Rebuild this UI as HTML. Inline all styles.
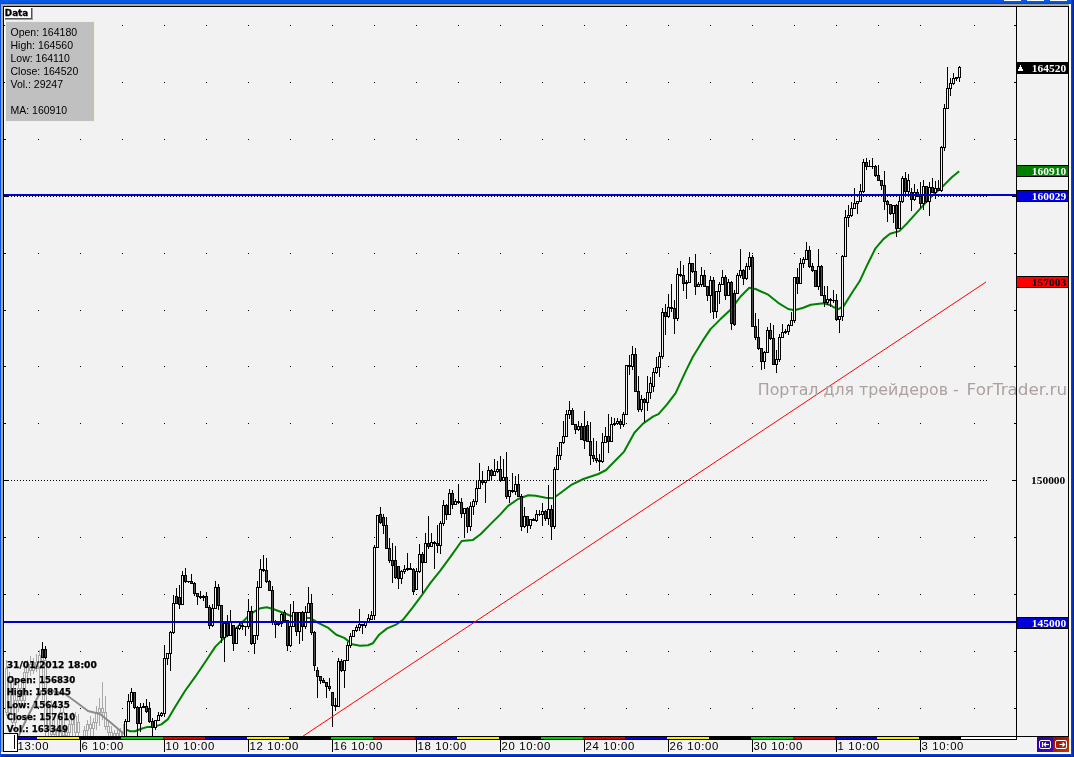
<!DOCTYPE html>
<html lang="ru"><head><meta charset="utf-8"><title>Chart</title>
<style>
html,body{margin:0;padding:0;background:#0a48de;overflow:hidden}
body{width:1074px;height:757px}
svg{display:block}
</style></head><body>
<svg width="1074" height="757" viewBox="0 0 1074 757" shape-rendering="crispEdges">
<defs><linearGradient id="gt" x1="0" y1="0" x2="0" y2="1"><stop offset="0" stop-color="#0a5ae8"/><stop offset="0.6" stop-color="#0054e3"/><stop offset="1" stop-color="#0340c8"/></linearGradient><linearGradient id="gb" x1="0" y1="0" x2="0" y2="1"><stop offset="0" stop-color="#0a48de"/><stop offset="1" stop-color="#001c9c"/></linearGradient><linearGradient id="gr" x1="0" y1="0" x2="1" y2="0"><stop offset="0" stop-color="#0a48de"/><stop offset="1" stop-color="#001c9c"/></linearGradient><linearGradient id="bb" x1="0" y1="0" x2="1" y2="1"><stop offset="0" stop-color="#2a00a0"/><stop offset="1" stop-color="#4408b8"/></linearGradient><linearGradient id="rb" x1="0" y1="0" x2="1" y2="1"><stop offset="0" stop-color="#980800"/><stop offset="1" stop-color="#c03808"/></linearGradient><clipPath id="cc"><rect x="4" y="7" width="1012" height="729"/></clipPath></defs>
<rect x="0" y="0" width="1074" height="757" fill="#0a48de"/>
<rect x="0" y="0" width="1074" height="4" fill="url(#gt)"/>
<rect x="0" y="754" width="1074" height="3" fill="url(#gb)"/>
<rect x="1071" y="0" width="3" height="757" fill="url(#gr)"/>
<rect x="0" y="0" width="1" height="757" fill="#0a50e0"/>
<rect x="1004" y="0" width="17" height="1" fill="#ffffff"/>
<rect x="1027" y="0" width="17" height="1" fill="#ffffff"/>
<rect x="1050" y="0" width="17" height="1" fill="#ffffff"/>
<rect x="1" y="4" width="1070" height="750" fill="#aca899"/>
<rect x="1069" y="4" width="2" height="750" fill="#fffdf0"/>
<rect x="1" y="752" width="1070" height="2" fill="#fffdf0"/>
<rect x="3" y="6" width="1066" height="746" fill="#000000"/>
<rect x="4" y="7" width="1065" height="745" fill="#f2f2f2"/>
<rect x="4" y="7" width="1" height="745" fill="#ffffff"/>
<path d="M38 25h1v1h-1zM80 25h1v1h-1zM122 25h1v1h-1zM164 25h1v1h-1zM206 25h1v1h-1zM248 25h1v1h-1zM290 25h1v1h-1zM332 25h1v1h-1zM374 25h1v1h-1zM416 25h1v1h-1zM458 25h1v1h-1zM500 25h1v1h-1zM542 25h1v1h-1zM584 25h1v1h-1zM626 25h1v1h-1zM668 25h1v1h-1zM710 25h1v1h-1zM752 25h1v1h-1zM794 25h1v1h-1zM836 25h1v1h-1zM878 25h1v1h-1zM920 25h1v1h-1zM974 25h1v1h-1zM38 82h1v1h-1zM80 82h1v1h-1zM122 82h1v1h-1zM164 82h1v1h-1zM206 82h1v1h-1zM248 82h1v1h-1zM290 82h1v1h-1zM332 82h1v1h-1zM374 82h1v1h-1zM416 82h1v1h-1zM458 82h1v1h-1zM500 82h1v1h-1zM542 82h1v1h-1zM584 82h1v1h-1zM626 82h1v1h-1zM668 82h1v1h-1zM710 82h1v1h-1zM752 82h1v1h-1zM794 82h1v1h-1zM836 82h1v1h-1zM878 82h1v1h-1zM920 82h1v1h-1zM974 82h1v1h-1zM38 139h1v1h-1zM80 139h1v1h-1zM122 139h1v1h-1zM164 139h1v1h-1zM206 139h1v1h-1zM248 139h1v1h-1zM290 139h1v1h-1zM332 139h1v1h-1zM374 139h1v1h-1zM416 139h1v1h-1zM458 139h1v1h-1zM500 139h1v1h-1zM542 139h1v1h-1zM584 139h1v1h-1zM626 139h1v1h-1zM668 139h1v1h-1zM710 139h1v1h-1zM752 139h1v1h-1zM794 139h1v1h-1zM836 139h1v1h-1zM878 139h1v1h-1zM920 139h1v1h-1zM974 139h1v1h-1zM38 196h1v1h-1zM80 196h1v1h-1zM122 196h1v1h-1zM164 196h1v1h-1zM206 196h1v1h-1zM248 196h1v1h-1zM290 196h1v1h-1zM332 196h1v1h-1zM374 196h1v1h-1zM416 196h1v1h-1zM458 196h1v1h-1zM500 196h1v1h-1zM542 196h1v1h-1zM584 196h1v1h-1zM626 196h1v1h-1zM668 196h1v1h-1zM710 196h1v1h-1zM752 196h1v1h-1zM794 196h1v1h-1zM836 196h1v1h-1zM878 196h1v1h-1zM920 196h1v1h-1zM974 196h1v1h-1zM38 253h1v1h-1zM80 253h1v1h-1zM122 253h1v1h-1zM164 253h1v1h-1zM206 253h1v1h-1zM248 253h1v1h-1zM290 253h1v1h-1zM332 253h1v1h-1zM374 253h1v1h-1zM416 253h1v1h-1zM458 253h1v1h-1zM500 253h1v1h-1zM542 253h1v1h-1zM584 253h1v1h-1zM626 253h1v1h-1zM668 253h1v1h-1zM710 253h1v1h-1zM752 253h1v1h-1zM794 253h1v1h-1zM836 253h1v1h-1zM878 253h1v1h-1zM920 253h1v1h-1zM974 253h1v1h-1zM38 310h1v1h-1zM80 310h1v1h-1zM122 310h1v1h-1zM164 310h1v1h-1zM206 310h1v1h-1zM248 310h1v1h-1zM290 310h1v1h-1zM332 310h1v1h-1zM374 310h1v1h-1zM416 310h1v1h-1zM458 310h1v1h-1zM500 310h1v1h-1zM542 310h1v1h-1zM584 310h1v1h-1zM626 310h1v1h-1zM668 310h1v1h-1zM710 310h1v1h-1zM752 310h1v1h-1zM794 310h1v1h-1zM836 310h1v1h-1zM878 310h1v1h-1zM920 310h1v1h-1zM974 310h1v1h-1zM38 366h1v1h-1zM80 366h1v1h-1zM122 366h1v1h-1zM164 366h1v1h-1zM206 366h1v1h-1zM248 366h1v1h-1zM290 366h1v1h-1zM332 366h1v1h-1zM374 366h1v1h-1zM416 366h1v1h-1zM458 366h1v1h-1zM500 366h1v1h-1zM542 366h1v1h-1zM584 366h1v1h-1zM626 366h1v1h-1zM668 366h1v1h-1zM710 366h1v1h-1zM752 366h1v1h-1zM794 366h1v1h-1zM836 366h1v1h-1zM878 366h1v1h-1zM920 366h1v1h-1zM974 366h1v1h-1zM38 423h1v1h-1zM80 423h1v1h-1zM122 423h1v1h-1zM164 423h1v1h-1zM206 423h1v1h-1zM248 423h1v1h-1zM290 423h1v1h-1zM332 423h1v1h-1zM374 423h1v1h-1zM416 423h1v1h-1zM458 423h1v1h-1zM500 423h1v1h-1zM542 423h1v1h-1zM584 423h1v1h-1zM626 423h1v1h-1zM668 423h1v1h-1zM710 423h1v1h-1zM752 423h1v1h-1zM794 423h1v1h-1zM836 423h1v1h-1zM878 423h1v1h-1zM920 423h1v1h-1zM974 423h1v1h-1zM38 480h1v1h-1zM80 480h1v1h-1zM122 480h1v1h-1zM164 480h1v1h-1zM206 480h1v1h-1zM248 480h1v1h-1zM290 480h1v1h-1zM332 480h1v1h-1zM374 480h1v1h-1zM416 480h1v1h-1zM458 480h1v1h-1zM500 480h1v1h-1zM542 480h1v1h-1zM584 480h1v1h-1zM626 480h1v1h-1zM668 480h1v1h-1zM710 480h1v1h-1zM752 480h1v1h-1zM794 480h1v1h-1zM836 480h1v1h-1zM878 480h1v1h-1zM920 480h1v1h-1zM974 480h1v1h-1zM38 537h1v1h-1zM80 537h1v1h-1zM122 537h1v1h-1zM164 537h1v1h-1zM206 537h1v1h-1zM248 537h1v1h-1zM290 537h1v1h-1zM332 537h1v1h-1zM374 537h1v1h-1zM416 537h1v1h-1zM458 537h1v1h-1zM500 537h1v1h-1zM542 537h1v1h-1zM584 537h1v1h-1zM626 537h1v1h-1zM668 537h1v1h-1zM710 537h1v1h-1zM752 537h1v1h-1zM794 537h1v1h-1zM836 537h1v1h-1zM878 537h1v1h-1zM920 537h1v1h-1zM974 537h1v1h-1zM38 594h1v1h-1zM80 594h1v1h-1zM122 594h1v1h-1zM164 594h1v1h-1zM206 594h1v1h-1zM248 594h1v1h-1zM290 594h1v1h-1zM332 594h1v1h-1zM374 594h1v1h-1zM416 594h1v1h-1zM458 594h1v1h-1zM500 594h1v1h-1zM542 594h1v1h-1zM584 594h1v1h-1zM626 594h1v1h-1zM668 594h1v1h-1zM710 594h1v1h-1zM752 594h1v1h-1zM794 594h1v1h-1zM836 594h1v1h-1zM878 594h1v1h-1zM920 594h1v1h-1zM974 594h1v1h-1zM38 651h1v1h-1zM80 651h1v1h-1zM122 651h1v1h-1zM164 651h1v1h-1zM206 651h1v1h-1zM248 651h1v1h-1zM290 651h1v1h-1zM332 651h1v1h-1zM374 651h1v1h-1zM416 651h1v1h-1zM458 651h1v1h-1zM500 651h1v1h-1zM542 651h1v1h-1zM584 651h1v1h-1zM626 651h1v1h-1zM668 651h1v1h-1zM710 651h1v1h-1zM752 651h1v1h-1zM794 651h1v1h-1zM836 651h1v1h-1zM878 651h1v1h-1zM920 651h1v1h-1zM974 651h1v1h-1zM38 708h1v1h-1zM80 708h1v1h-1zM122 708h1v1h-1zM164 708h1v1h-1zM206 708h1v1h-1zM248 708h1v1h-1zM290 708h1v1h-1zM332 708h1v1h-1zM374 708h1v1h-1zM416 708h1v1h-1zM458 708h1v1h-1zM500 708h1v1h-1zM542 708h1v1h-1zM584 708h1v1h-1zM626 708h1v1h-1zM668 708h1v1h-1zM710 708h1v1h-1zM752 708h1v1h-1zM794 708h1v1h-1zM836 708h1v1h-1zM878 708h1v1h-1zM920 708h1v1h-1zM974 708h1v1h-1z" fill="#000"/>
<path d="M4 25h2v1h-2zM1014 25H1016v1H1014zM4 82h2v1h-2zM1014 82H1016v1H1014zM4 139h2v1h-2zM1014 139H1016v1H1014zM4 196h5v1h-5zM1012 196H1016v1H1012zM4 253h2v1h-2zM1014 253H1016v1H1014zM4 310h2v1h-2zM1014 310H1016v1H1014zM4 366h2v1h-2zM1014 366H1016v1H1014zM4 423h2v1h-2zM1014 423H1016v1H1014zM4 480h5v1h-5zM1012 480H1016v1H1012zM4 537h2v1h-2zM1014 537H1016v1H1014zM4 594h2v1h-2zM1014 594H1016v1H1014zM4 651h2v1h-2zM1014 651H1016v1H1014zM4 708h2v1h-2zM1014 708H1016v1H1014z" fill="#000"/>
<path d="M8 480h1v1h-1zM11 480h1v1h-1zM14 480h1v1h-1zM17 480h1v1h-1zM20 480h1v1h-1zM23 480h1v1h-1zM26 480h1v1h-1zM29 480h1v1h-1zM32 480h1v1h-1zM35 480h1v1h-1zM38 480h1v1h-1zM41 480h1v1h-1zM44 480h1v1h-1zM47 480h1v1h-1zM50 480h1v1h-1zM53 480h1v1h-1zM56 480h1v1h-1zM59 480h1v1h-1zM62 480h1v1h-1zM65 480h1v1h-1zM68 480h1v1h-1zM71 480h1v1h-1zM74 480h1v1h-1zM77 480h1v1h-1zM80 480h1v1h-1zM83 480h1v1h-1zM86 480h1v1h-1zM89 480h1v1h-1zM92 480h1v1h-1zM95 480h1v1h-1zM98 480h1v1h-1zM101 480h1v1h-1zM104 480h1v1h-1zM107 480h1v1h-1zM110 480h1v1h-1zM113 480h1v1h-1zM116 480h1v1h-1zM119 480h1v1h-1zM122 480h1v1h-1zM125 480h1v1h-1zM128 480h1v1h-1zM131 480h1v1h-1zM134 480h1v1h-1zM137 480h1v1h-1zM140 480h1v1h-1zM143 480h1v1h-1zM146 480h1v1h-1zM149 480h1v1h-1zM152 480h1v1h-1zM155 480h1v1h-1zM158 480h1v1h-1zM161 480h1v1h-1zM164 480h1v1h-1zM167 480h1v1h-1zM170 480h1v1h-1zM173 480h1v1h-1zM176 480h1v1h-1zM179 480h1v1h-1zM182 480h1v1h-1zM185 480h1v1h-1zM188 480h1v1h-1zM191 480h1v1h-1zM194 480h1v1h-1zM197 480h1v1h-1zM200 480h1v1h-1zM203 480h1v1h-1zM206 480h1v1h-1zM209 480h1v1h-1zM212 480h1v1h-1zM215 480h1v1h-1zM218 480h1v1h-1zM221 480h1v1h-1zM224 480h1v1h-1zM227 480h1v1h-1zM230 480h1v1h-1zM233 480h1v1h-1zM236 480h1v1h-1zM239 480h1v1h-1zM242 480h1v1h-1zM245 480h1v1h-1zM248 480h1v1h-1zM251 480h1v1h-1zM254 480h1v1h-1zM257 480h1v1h-1zM260 480h1v1h-1zM263 480h1v1h-1zM266 480h1v1h-1zM269 480h1v1h-1zM272 480h1v1h-1zM275 480h1v1h-1zM278 480h1v1h-1zM281 480h1v1h-1zM284 480h1v1h-1zM287 480h1v1h-1zM290 480h1v1h-1zM293 480h1v1h-1zM296 480h1v1h-1zM299 480h1v1h-1zM302 480h1v1h-1zM305 480h1v1h-1zM308 480h1v1h-1zM311 480h1v1h-1zM314 480h1v1h-1zM317 480h1v1h-1zM320 480h1v1h-1zM323 480h1v1h-1zM326 480h1v1h-1zM329 480h1v1h-1zM332 480h1v1h-1zM335 480h1v1h-1zM338 480h1v1h-1zM341 480h1v1h-1zM344 480h1v1h-1zM347 480h1v1h-1zM350 480h1v1h-1zM353 480h1v1h-1zM356 480h1v1h-1zM359 480h1v1h-1zM362 480h1v1h-1zM365 480h1v1h-1zM368 480h1v1h-1zM371 480h1v1h-1zM374 480h1v1h-1zM377 480h1v1h-1zM380 480h1v1h-1zM383 480h1v1h-1zM386 480h1v1h-1zM389 480h1v1h-1zM392 480h1v1h-1zM395 480h1v1h-1zM398 480h1v1h-1zM401 480h1v1h-1zM404 480h1v1h-1zM407 480h1v1h-1zM410 480h1v1h-1zM413 480h1v1h-1zM416 480h1v1h-1zM419 480h1v1h-1zM422 480h1v1h-1zM425 480h1v1h-1zM428 480h1v1h-1zM431 480h1v1h-1zM434 480h1v1h-1zM437 480h1v1h-1zM440 480h1v1h-1zM443 480h1v1h-1zM446 480h1v1h-1zM449 480h1v1h-1zM452 480h1v1h-1zM455 480h1v1h-1zM458 480h1v1h-1zM461 480h1v1h-1zM464 480h1v1h-1zM467 480h1v1h-1zM470 480h1v1h-1zM473 480h1v1h-1zM476 480h1v1h-1zM479 480h1v1h-1zM482 480h1v1h-1zM485 480h1v1h-1zM488 480h1v1h-1zM491 480h1v1h-1zM494 480h1v1h-1zM497 480h1v1h-1zM500 480h1v1h-1zM503 480h1v1h-1zM506 480h1v1h-1zM509 480h1v1h-1zM512 480h1v1h-1zM515 480h1v1h-1zM518 480h1v1h-1zM521 480h1v1h-1zM524 480h1v1h-1zM527 480h1v1h-1zM530 480h1v1h-1zM533 480h1v1h-1zM536 480h1v1h-1zM539 480h1v1h-1zM542 480h1v1h-1zM545 480h1v1h-1zM548 480h1v1h-1zM551 480h1v1h-1zM554 480h1v1h-1zM557 480h1v1h-1zM560 480h1v1h-1zM563 480h1v1h-1zM566 480h1v1h-1zM569 480h1v1h-1zM572 480h1v1h-1zM575 480h1v1h-1zM578 480h1v1h-1zM581 480h1v1h-1zM584 480h1v1h-1zM587 480h1v1h-1zM590 480h1v1h-1zM593 480h1v1h-1zM596 480h1v1h-1zM599 480h1v1h-1zM602 480h1v1h-1zM605 480h1v1h-1zM608 480h1v1h-1zM611 480h1v1h-1zM614 480h1v1h-1zM617 480h1v1h-1zM620 480h1v1h-1zM623 480h1v1h-1zM626 480h1v1h-1zM629 480h1v1h-1zM632 480h1v1h-1zM635 480h1v1h-1zM638 480h1v1h-1zM641 480h1v1h-1zM644 480h1v1h-1zM647 480h1v1h-1zM650 480h1v1h-1zM653 480h1v1h-1zM656 480h1v1h-1zM659 480h1v1h-1zM662 480h1v1h-1zM665 480h1v1h-1zM668 480h1v1h-1zM671 480h1v1h-1zM674 480h1v1h-1zM677 480h1v1h-1zM680 480h1v1h-1zM683 480h1v1h-1zM686 480h1v1h-1zM689 480h1v1h-1zM692 480h1v1h-1zM695 480h1v1h-1zM698 480h1v1h-1zM701 480h1v1h-1zM704 480h1v1h-1zM707 480h1v1h-1zM710 480h1v1h-1zM713 480h1v1h-1zM716 480h1v1h-1zM719 480h1v1h-1zM722 480h1v1h-1zM725 480h1v1h-1zM728 480h1v1h-1zM731 480h1v1h-1zM734 480h1v1h-1zM737 480h1v1h-1zM740 480h1v1h-1zM743 480h1v1h-1zM746 480h1v1h-1zM749 480h1v1h-1zM752 480h1v1h-1zM755 480h1v1h-1zM758 480h1v1h-1zM761 480h1v1h-1zM764 480h1v1h-1zM767 480h1v1h-1zM770 480h1v1h-1zM773 480h1v1h-1zM776 480h1v1h-1zM779 480h1v1h-1zM782 480h1v1h-1zM785 480h1v1h-1zM788 480h1v1h-1zM791 480h1v1h-1zM794 480h1v1h-1zM797 480h1v1h-1zM800 480h1v1h-1zM803 480h1v1h-1zM806 480h1v1h-1zM809 480h1v1h-1zM812 480h1v1h-1zM815 480h1v1h-1zM818 480h1v1h-1zM821 480h1v1h-1zM824 480h1v1h-1zM827 480h1v1h-1zM830 480h1v1h-1zM833 480h1v1h-1zM836 480h1v1h-1zM839 480h1v1h-1zM842 480h1v1h-1zM845 480h1v1h-1zM848 480h1v1h-1zM851 480h1v1h-1zM854 480h1v1h-1zM857 480h1v1h-1zM860 480h1v1h-1zM863 480h1v1h-1zM866 480h1v1h-1zM869 480h1v1h-1zM872 480h1v1h-1zM875 480h1v1h-1zM878 480h1v1h-1zM881 480h1v1h-1zM884 480h1v1h-1zM887 480h1v1h-1zM890 480h1v1h-1zM893 480h1v1h-1zM896 480h1v1h-1zM899 480h1v1h-1zM902 480h1v1h-1zM905 480h1v1h-1zM908 480h1v1h-1zM911 480h1v1h-1zM914 480h1v1h-1zM917 480h1v1h-1zM920 480h1v1h-1zM923 480h1v1h-1zM926 480h1v1h-1zM929 480h1v1h-1zM932 480h1v1h-1zM935 480h1v1h-1zM938 480h1v1h-1zM941 480h1v1h-1zM944 480h1v1h-1zM947 480h1v1h-1zM950 480h1v1h-1zM953 480h1v1h-1zM956 480h1v1h-1zM959 480h1v1h-1zM962 480h1v1h-1zM965 480h1v1h-1zM968 480h1v1h-1zM971 480h1v1h-1zM974 480h1v1h-1zM977 480h1v1h-1zM980 480h1v1h-1zM983 480h1v1h-1zM986 480h1v1h-1z" fill="#000"/>
<path d="M8 196h1v1h-1zM11 196h1v1h-1zM14 196h1v1h-1zM17 196h1v1h-1zM20 196h1v1h-1zM23 196h1v1h-1zM26 196h1v1h-1zM29 196h1v1h-1zM32 196h1v1h-1zM35 196h1v1h-1zM38 196h1v1h-1zM41 196h1v1h-1zM44 196h1v1h-1zM47 196h1v1h-1zM50 196h1v1h-1zM53 196h1v1h-1zM56 196h1v1h-1zM59 196h1v1h-1zM62 196h1v1h-1zM65 196h1v1h-1zM68 196h1v1h-1zM71 196h1v1h-1zM74 196h1v1h-1zM77 196h1v1h-1zM80 196h1v1h-1zM83 196h1v1h-1zM86 196h1v1h-1zM89 196h1v1h-1zM92 196h1v1h-1zM95 196h1v1h-1zM98 196h1v1h-1zM101 196h1v1h-1zM104 196h1v1h-1zM107 196h1v1h-1zM110 196h1v1h-1zM113 196h1v1h-1zM116 196h1v1h-1zM119 196h1v1h-1zM122 196h1v1h-1zM125 196h1v1h-1zM128 196h1v1h-1zM131 196h1v1h-1zM134 196h1v1h-1zM137 196h1v1h-1zM140 196h1v1h-1zM143 196h1v1h-1zM146 196h1v1h-1zM149 196h1v1h-1zM152 196h1v1h-1zM155 196h1v1h-1zM158 196h1v1h-1zM161 196h1v1h-1zM164 196h1v1h-1zM167 196h1v1h-1zM170 196h1v1h-1zM173 196h1v1h-1zM176 196h1v1h-1zM179 196h1v1h-1zM182 196h1v1h-1zM185 196h1v1h-1zM188 196h1v1h-1zM191 196h1v1h-1zM194 196h1v1h-1zM197 196h1v1h-1zM200 196h1v1h-1zM203 196h1v1h-1zM206 196h1v1h-1zM209 196h1v1h-1zM212 196h1v1h-1zM215 196h1v1h-1zM218 196h1v1h-1zM221 196h1v1h-1zM224 196h1v1h-1zM227 196h1v1h-1zM230 196h1v1h-1zM233 196h1v1h-1zM236 196h1v1h-1zM239 196h1v1h-1zM242 196h1v1h-1zM245 196h1v1h-1zM248 196h1v1h-1zM251 196h1v1h-1zM254 196h1v1h-1zM257 196h1v1h-1zM260 196h1v1h-1zM263 196h1v1h-1zM266 196h1v1h-1zM269 196h1v1h-1zM272 196h1v1h-1zM275 196h1v1h-1zM278 196h1v1h-1zM281 196h1v1h-1zM284 196h1v1h-1zM287 196h1v1h-1zM290 196h1v1h-1zM293 196h1v1h-1zM296 196h1v1h-1zM299 196h1v1h-1zM302 196h1v1h-1zM305 196h1v1h-1zM308 196h1v1h-1zM311 196h1v1h-1zM314 196h1v1h-1zM317 196h1v1h-1zM320 196h1v1h-1zM323 196h1v1h-1zM326 196h1v1h-1zM329 196h1v1h-1zM332 196h1v1h-1zM335 196h1v1h-1zM338 196h1v1h-1zM341 196h1v1h-1zM344 196h1v1h-1zM347 196h1v1h-1zM350 196h1v1h-1zM353 196h1v1h-1zM356 196h1v1h-1zM359 196h1v1h-1zM362 196h1v1h-1zM365 196h1v1h-1zM368 196h1v1h-1zM371 196h1v1h-1zM374 196h1v1h-1zM377 196h1v1h-1zM380 196h1v1h-1zM383 196h1v1h-1zM386 196h1v1h-1zM389 196h1v1h-1zM392 196h1v1h-1zM395 196h1v1h-1zM398 196h1v1h-1zM401 196h1v1h-1zM404 196h1v1h-1zM407 196h1v1h-1zM410 196h1v1h-1zM413 196h1v1h-1zM416 196h1v1h-1zM419 196h1v1h-1zM422 196h1v1h-1zM425 196h1v1h-1zM428 196h1v1h-1zM431 196h1v1h-1zM434 196h1v1h-1zM437 196h1v1h-1zM440 196h1v1h-1zM443 196h1v1h-1zM446 196h1v1h-1zM449 196h1v1h-1zM452 196h1v1h-1zM455 196h1v1h-1zM458 196h1v1h-1zM461 196h1v1h-1zM464 196h1v1h-1zM467 196h1v1h-1zM470 196h1v1h-1zM473 196h1v1h-1zM476 196h1v1h-1zM479 196h1v1h-1zM482 196h1v1h-1zM485 196h1v1h-1zM488 196h1v1h-1zM491 196h1v1h-1zM494 196h1v1h-1zM497 196h1v1h-1zM500 196h1v1h-1zM503 196h1v1h-1zM506 196h1v1h-1zM509 196h1v1h-1zM512 196h1v1h-1zM515 196h1v1h-1zM518 196h1v1h-1zM521 196h1v1h-1zM524 196h1v1h-1zM527 196h1v1h-1zM530 196h1v1h-1zM533 196h1v1h-1zM536 196h1v1h-1zM539 196h1v1h-1zM542 196h1v1h-1zM545 196h1v1h-1zM548 196h1v1h-1zM551 196h1v1h-1zM554 196h1v1h-1zM557 196h1v1h-1zM560 196h1v1h-1zM563 196h1v1h-1zM566 196h1v1h-1zM569 196h1v1h-1zM572 196h1v1h-1zM575 196h1v1h-1zM578 196h1v1h-1zM581 196h1v1h-1zM584 196h1v1h-1zM587 196h1v1h-1zM590 196h1v1h-1zM593 196h1v1h-1zM596 196h1v1h-1zM599 196h1v1h-1zM602 196h1v1h-1zM605 196h1v1h-1zM608 196h1v1h-1zM611 196h1v1h-1zM614 196h1v1h-1zM617 196h1v1h-1zM620 196h1v1h-1zM623 196h1v1h-1zM626 196h1v1h-1zM629 196h1v1h-1zM632 196h1v1h-1zM635 196h1v1h-1zM638 196h1v1h-1zM641 196h1v1h-1zM644 196h1v1h-1zM647 196h1v1h-1zM650 196h1v1h-1zM653 196h1v1h-1zM656 196h1v1h-1zM659 196h1v1h-1zM662 196h1v1h-1zM665 196h1v1h-1zM668 196h1v1h-1zM671 196h1v1h-1zM674 196h1v1h-1zM677 196h1v1h-1zM680 196h1v1h-1zM683 196h1v1h-1zM686 196h1v1h-1zM689 196h1v1h-1zM692 196h1v1h-1zM695 196h1v1h-1zM698 196h1v1h-1zM701 196h1v1h-1zM704 196h1v1h-1zM707 196h1v1h-1zM710 196h1v1h-1zM713 196h1v1h-1zM716 196h1v1h-1zM719 196h1v1h-1zM722 196h1v1h-1zM725 196h1v1h-1zM728 196h1v1h-1zM731 196h1v1h-1zM734 196h1v1h-1zM737 196h1v1h-1zM740 196h1v1h-1zM743 196h1v1h-1zM746 196h1v1h-1zM749 196h1v1h-1zM752 196h1v1h-1zM755 196h1v1h-1zM758 196h1v1h-1zM761 196h1v1h-1zM764 196h1v1h-1zM767 196h1v1h-1zM770 196h1v1h-1zM773 196h1v1h-1zM776 196h1v1h-1zM779 196h1v1h-1zM782 196h1v1h-1zM785 196h1v1h-1zM788 196h1v1h-1zM791 196h1v1h-1zM794 196h1v1h-1zM797 196h1v1h-1zM800 196h1v1h-1zM803 196h1v1h-1zM806 196h1v1h-1zM809 196h1v1h-1zM812 196h1v1h-1zM815 196h1v1h-1zM818 196h1v1h-1zM821 196h1v1h-1zM824 196h1v1h-1zM827 196h1v1h-1zM830 196h1v1h-1zM833 196h1v1h-1zM836 196h1v1h-1zM839 196h1v1h-1zM842 196h1v1h-1zM845 196h1v1h-1zM848 196h1v1h-1zM851 196h1v1h-1zM854 196h1v1h-1zM857 196h1v1h-1zM860 196h1v1h-1zM863 196h1v1h-1zM866 196h1v1h-1zM869 196h1v1h-1zM872 196h1v1h-1zM875 196h1v1h-1zM878 196h1v1h-1zM881 196h1v1h-1zM884 196h1v1h-1zM887 196h1v1h-1zM890 196h1v1h-1zM893 196h1v1h-1zM896 196h1v1h-1zM899 196h1v1h-1zM902 196h1v1h-1zM905 196h1v1h-1zM908 196h1v1h-1zM911 196h1v1h-1zM914 196h1v1h-1zM917 196h1v1h-1zM920 196h1v1h-1zM923 196h1v1h-1zM926 196h1v1h-1zM929 196h1v1h-1zM932 196h1v1h-1zM935 196h1v1h-1zM938 196h1v1h-1zM941 196h1v1h-1zM944 196h1v1h-1zM947 196h1v1h-1zM950 196h1v1h-1zM953 196h1v1h-1zM956 196h1v1h-1zM959 196h1v1h-1zM962 196h1v1h-1zM965 196h1v1h-1zM968 196h1v1h-1zM971 196h1v1h-1zM974 196h1v1h-1zM977 196h1v1h-1zM980 196h1v1h-1zM983 196h1v1h-1zM986 196h1v1h-1z" fill="#000"/>
<g clip-path="url(#cc)">
<path d="M6 660h1v56h-1zM9 672h1v48h-1zM12 676h1v50h-1zM15 690h1v40h-1zM18 682h1v30h-1zM21 680h1v28h-1zM24 668h1v38h-1zM27 660h1v24h-1zM30 656h1v20h-1zM33 658h1v16h-1zM36 654h1v18h-1zM39 650h1v40h-1zM42 642h1v58h-1zM45 648h1v88h-1zM48 700h1v40h-1zM51 700h1v40h-1zM54 720h1v20h-1zM57 718h1v22h-1zM60 708h1v32h-1zM63 706h1v34h-1zM66 726h1v14h-1zM69 720h1v20h-1zM72 712h1v24h-1zM75 712h1v24h-1zM78 714h1v26h-1zM84 726h1v14h-1zM87 720h1v18h-1zM90 716h1v20h-1zM93 718h1v18h-1zM96 706h1v24h-1zM99 698h1v28h-1zM102 682h1v38h-1zM105 696h1v34h-1zM108 720h1v18h-1zM111 726h1v14h-1zM114 730h1v10h-1zM117 728h1v12h-1zM120 728h1v12h-1zM123 724h1v16h-1z" fill="#a8a8a8"/>
<path d="M5 668h3v45h-3zM8 680h3v33h-3zM11 680h3v43h-3zM14 700h3v23h-3zM17 688h3v13h-3zM20 688h3v13h-3zM23 672h3v29h-3zM26 664h3v9h-3zM29 664h3v7h-3zM32 662h3v9h-3zM35 662h3v7h-3zM38 655h3v14h-3zM41 655h3v6h-3zM44 660h3v71h-3zM47 706h3v25h-3zM50 706h3v29h-3zM53 728h3v7h-3zM56 728h3v9h-3zM59 712h3v25h-3zM62 712h3v24h-3zM65 732h3v4h-3zM68 724h3v9h-3zM71 716h3v9h-3zM74 716h3v17h-3zM77 722h3v11h-3zM83 730h3v7h-3zM86 724h3v7h-3zM89 724h3v5h-3zM92 722h3v7h-3zM95 712h3v11h-3zM98 708h3v5h-3zM101 708h3v5h-3zM104 712h3v15h-3zM107 726h3v7h-3zM110 732h3v5h-3zM113 733h3v4h-3zM116 733h3v4h-3zM119 731h3v6h-3zM122 731h3v6h-3z" fill="#a8a8a8"/>
<path d="M6 669h1v43h-1zM9 681h1v31h-1zM12 681h1v41h-1zM15 701h1v21h-1zM18 689h1v11h-1zM21 689h1v11h-1zM24 673h1v27h-1zM27 665h1v7h-1zM30 665h1v5h-1zM33 663h1v7h-1zM36 663h1v5h-1zM39 656h1v12h-1zM42 656h1v4h-1zM45 661h1v69h-1zM48 707h1v23h-1zM51 707h1v27h-1zM54 729h1v5h-1zM57 729h1v7h-1zM60 713h1v23h-1zM63 713h1v22h-1zM66 733h1v2h-1zM69 725h1v7h-1zM72 717h1v7h-1zM75 717h1v15h-1zM78 723h1v9h-1zM84 731h1v5h-1zM87 725h1v5h-1zM90 725h1v3h-1zM93 723h1v5h-1zM96 713h1v9h-1zM99 709h1v3h-1zM102 709h1v3h-1zM105 713h1v13h-1zM108 727h1v5h-1zM111 733h1v3h-1zM114 734h1v2h-1zM117 734h1v2h-1zM120 732h1v4h-1zM123 732h1v4h-1z" fill="#f6f6f6"/>
<polyline shape-rendering="auto" fill="none" stroke="#8c8c8c" stroke-width="2" stroke-linejoin="round" points="18,737 28,716 41,691 52,691 65,694 76,702 88,711 100,714 110,722 124,734"/>
<rect x="42" y="642" width="1" height="16" fill="#000"/>
<rect x="45" y="646" width="1" height="13" fill="#000"/>
<rect x="41" y="649" width="3" height="9" fill="#000"/>
<rect x="44" y="649" width="3" height="9" fill="#000"/>
<rect x="42" y="650" width="1" height="7" fill="#4c4c4c"/>
<rect x="45" y="650" width="1" height="7" fill="#4c4c4c"/>
<polyline shape-rendering="auto" fill="none" stroke="#008000" stroke-width="2" stroke-linejoin="round" points="125.6,729.4 130.1,731.2 135.1,731.2 141.4,728.7 147.6,726.9 153.9,726.9 161.4,724.4 167.7,719.4 175.2,706.8 185.3,690.5 195.3,676.7 205.4,661.7 215.4,646.6 222.9,639.1 230.5,632.8 238.0,626.5 243.0,621.5 248.0,616.5 254.3,611.5 260.6,608.2 266.8,607.2 273.1,609.0 283.1,612.7 290.7,615.7 300.7,617.3 310.8,618.3 318.3,622.8 328.3,627.8 330.0,629.4 336.3,634.7 344.3,637.9 352.2,644.3 360.1,645.8 368.0,645.2 372.8,643.3 379.1,634.7 387.1,628.4 396.6,624.3 402.9,619.8 412.4,607.8 421.9,595.1 430.3,583.1 440.3,570.6 450.4,556.8 461.7,541.0 473.0,539.9 480.5,534.2 490.5,524.1 500.6,514.1 508.1,505.8 518.1,499.0 528.2,495.3 535.7,495.8 545.7,497.8 553.3,498.3 560.8,492.8 570.8,485.2 583.4,479.0 598.4,474.0 606.1,470.0 624.1,451.6 634.4,432.7 643.0,423.6 653.3,416.4 658.5,414.2 667.0,404.4 675.6,393.2 685.9,370.9 692.9,356.7 702.9,340.4 710.5,329.1 720.5,319.1 730.5,309.8 740.6,296.5 749.3,287.7 755.6,289.0 768.2,294.7 778.2,302.8 788.2,309.0 794.5,310.3 803.3,307.8 810.8,304.8 823.4,303.3 830.9,305.3 833.2,307.0 838.5,309.1 843.8,305.9 851.7,293.2 859.6,281.3 867.6,264.2 875.5,248.3 883.4,239.1 890.0,233.8 899.3,231.1 907.2,223.2 917.8,211.3 931.0,196.8 941.5,187.6 952.1,177.0 959.2,171.2"/>
<path d="M125 719h1v26h-1zM128 694h1v28h-1zM131 688h1v16h-1zM134 692h1v17h-1zM137 706h1v31h-1zM140 703h1v29h-1zM143 703h1v5h-1zM146 699h1v14h-1zM149 702h1v21h-1zM152 718h1v19h-1zM155 720h1v10h-1zM158 712h1v9h-1zM161 712h1v5h-1zM164 645h1v72h-1zM167 653h1v12h-1zM170 631h1v40h-1zM173 595h1v39h-1zM176 588h1v16h-1zM179 585h1v24h-1zM182 571h1v34h-1zM185 568h1v15h-1zM188 581h1v2h-1zM191 574h1v10h-1zM194 582h1v14h-1zM197 593h1v12h-1zM200 591h1v8h-1zM203 595h1v6h-1zM206 592h1v16h-1zM209 605h1v24h-1zM212 604h1v23h-1zM215 581h1v28h-1zM218 584h1v26h-1zM221 605h1v38h-1zM224 621h1v41h-1zM227 615h1v22h-1zM230 610h1v26h-1zM233 625h1v26h-1zM236 627h1v17h-1zM239 621h1v9h-1zM242 623h1v7h-1zM245 626h1v10h-1zM248 599h1v30h-1zM251 606h1v39h-1zM254 635h1v19h-1zM257 581h1v59h-1zM260 559h1v29h-1zM263 555h1v17h-1zM266 558h1v25h-1zM269 580h1v11h-1zM272 586h1v39h-1zM275 620h1v18h-1zM278 623h1v3h-1zM281 613h1v14h-1zM284 610h1v11h-1zM287 620h1v31h-1zM290 604h1v43h-1zM293 601h1v26h-1zM296 612h1v24h-1zM299 612h1v32h-1zM302 611h1v30h-1zM305 606h1v23h-1zM308 587h1v26h-1zM311 594h1v41h-1zM314 631h1v40h-1zM317 667h1v31h-1zM320 676h1v8h-1zM323 678h1v5h-1zM326 682h1v16h-1zM329 678h1v13h-1zM332 692h1v35h-1zM335 698h1v13h-1zM338 658h1v49h-1zM341 659h1v13h-1zM344 660h1v28h-1zM347 642h1v19h-1zM350 633h1v15h-1zM353 630h1v7h-1zM356 625h1v7h-1zM359 609h1v22h-1zM362 624h1v10h-1zM365 622h1v6h-1zM368 614h1v9h-1zM371 611h1v9h-1zM374 545h1v75h-1zM377 515h1v33h-1zM380 507h1v17h-1zM383 514h1v20h-1zM386 517h1v32h-1zM389 538h1v25h-1zM392 543h1v40h-1zM395 546h1v33h-1zM398 566h1v23h-1zM401 570h1v14h-1zM404 565h1v9h-1zM407 553h1v18h-1zM410 563h1v7h-1zM413 568h1v27h-1zM416 568h1v22h-1zM419 544h1v29h-1zM422 552h1v41h-1zM425 533h1v30h-1zM428 516h1v33h-1zM431 533h1v14h-1zM434 541h1v28h-1zM437 525h1v28h-1zM440 521h1v33h-1zM443 500h1v26h-1zM446 504h1v16h-1zM449 489h1v26h-1zM452 490h1v19h-1zM455 499h1v6h-1zM458 484h1v20h-1zM461 498h1v20h-1zM464 508h1v30h-1zM467 507h1v26h-1zM470 502h1v29h-1zM473 499h1v16h-1zM476 480h1v25h-1zM479 463h1v26h-1zM482 471h1v14h-1zM485 480h1v23h-1zM488 466h1v15h-1zM491 469h1v11h-1zM494 459h1v17h-1zM497 461h1v12h-1zM500 456h1v26h-1zM503 459h1v22h-1zM506 452h1v47h-1zM509 490h1v13h-1zM512 473h1v20h-1zM515 476h1v19h-1zM518 474h1v23h-1zM521 494h1v37h-1zM524 507h1v21h-1zM527 516h1v17h-1zM530 519h1v10h-1zM533 518h1v3h-1zM536 510h1v12h-1zM539 510h1v6h-1zM542 503h1v23h-1zM545 510h1v11h-1zM548 485h1v40h-1zM551 505h1v35h-1zM554 467h1v62h-1zM557 447h1v23h-1zM560 442h1v18h-1zM563 421h1v23h-1zM566 410h1v27h-1zM569 401h1v18h-1zM572 408h1v17h-1zM575 424h1v10h-1zM578 421h1v10h-1zM581 423h1v17h-1zM584 411h1v38h-1zM587 421h1v21h-1zM590 422h1v43h-1zM593 438h1v24h-1zM596 441h1v22h-1zM599 454h1v17h-1zM602 433h1v30h-1zM605 427h1v16h-1zM608 414h1v39h-1zM611 417h1v25h-1zM614 418h1v8h-1zM617 418h1v7h-1zM620 419h1v10h-1zM623 412h1v15h-1zM626 365h1v50h-1zM629 355h1v20h-1zM632 346h1v24h-1zM635 348h1v44h-1zM638 376h1v36h-1zM641 395h1v17h-1zM644 398h1v24h-1zM647 376h1v35h-1zM650 377h1v22h-1zM653 368h1v24h-1zM656 357h1v17h-1zM659 352h1v25h-1zM662 308h1v51h-1zM665 304h1v31h-1zM668 294h1v24h-1zM671 284h1v28h-1zM674 300h1v34h-1zM677 268h1v53h-1zM680 261h1v16h-1zM683 265h1v26h-1zM686 280h1v19h-1zM689 257h1v26h-1zM692 263h1v10h-1zM695 254h1v41h-1zM698 282h1v5h-1zM701 267h1v20h-1zM704 270h1v17h-1zM707 286h1v15h-1zM710 276h1v37h-1zM713 277h1v42h-1zM716 291h1v27h-1zM719 282h1v22h-1zM722 270h1v15h-1zM725 275h1v25h-1zM728 279h1v17h-1zM731 281h1v49h-1zM734 290h1v36h-1zM737 273h1v21h-1zM740 249h1v29h-1zM743 269h1v16h-1zM746 263h1v17h-1zM749 252h1v18h-1zM752 255h1v72h-1zM755 313h1v27h-1zM758 319h1v31h-1zM761 348h1v22h-1zM764 351h1v18h-1zM767 327h1v26h-1zM770 323h1v17h-1zM773 325h1v40h-1zM776 350h1v23h-1zM779 334h1v28h-1zM782 324h1v14h-1zM785 329h1v5h-1zM788 324h1v11h-1zM791 312h1v14h-1zM794 277h1v46h-1zM797 268h1v26h-1zM800 258h1v26h-1zM803 257h1v11h-1zM806 242h1v18h-1zM809 246h1v22h-1zM812 263h1v9h-1zM815 270h1v17h-1zM818 249h1v41h-1zM821 265h1v31h-1zM824 286h1v21h-1zM827 286h1v19h-1zM830 298h1v9h-1zM833 290h1v13h-1zM836 294h1v27h-1zM839 316h1v17h-1zM842 255h1v66h-1zM845 210h1v47h-1zM848 205h1v22h-1zM851 202h1v15h-1zM854 188h1v21h-1zM857 201h1v13h-1zM860 184h1v18h-1zM863 159h1v34h-1zM866 158h1v12h-1zM869 160h1v7h-1zM872 158h1v11h-1zM875 165h1v12h-1zM878 165h1v16h-1zM881 180h1v10h-1zM884 171h1v39h-1zM887 200h1v22h-1zM890 204h1v11h-1zM893 205h1v18h-1zM896 204h1v33h-1zM899 197h1v32h-1zM902 176h1v27h-1zM905 172h1v23h-1zM908 174h1v20h-1zM911 188h1v23h-1zM914 184h1v17h-1zM917 189h1v8h-1zM920 182h1v26h-1zM923 180h1v30h-1zM926 186h1v17h-1zM929 182h1v34h-1zM932 178h1v15h-1zM935 181h1v18h-1zM938 180h1v11h-1zM941 146h1v46h-1zM944 104h1v47h-1zM947 67h1v42h-1zM950 78h1v18h-1zM953 73h1v12h-1zM956 77h1v4h-1zM959 66h1v16h-1z" fill="#000"/>
<path d="M124 721h3v21h-3zM127 701h3v21h-3zM130 692h3v10h-3zM133 692h3v16h-3zM136 707h3v17h-3zM139 707h3v17h-3zM142 706h3v2h-3zM145 706h3v6h-3zM148 708h3v14h-3zM151 721h3v7h-3zM154 720h3v8h-3zM157 715h3v6h-3zM160 713h3v3h-3zM163 658h3v56h-3zM166 653h3v6h-3zM169 632h3v22h-3zM172 603h3v30h-3zM175 596h3v8h-3zM178 597h3v8h-3zM181 575h3v30h-3zM184 575h3v7h-3zM187 581h3v1h-3zM190 581h3v3h-3zM193 583h3v11h-3zM196 593h3v4h-3zM199 596h3v2h-3zM202 596h3v2h-3zM205 596h3v12h-3zM208 607h3v19h-3zM211 608h3v18h-3zM214 587h3v22h-3zM217 587h3v19h-3zM220 605h3v33h-3zM223 623h3v15h-3zM226 623h3v13h-3zM229 622h3v14h-3zM232 625h3v19h-3zM235 628h3v16h-3zM238 625h3v4h-3zM241 625h3v2h-3zM244 626h3v1h-3zM247 611h3v16h-3zM250 611h3v33h-3zM253 635h3v9h-3zM256 587h3v49h-3zM259 569h3v19h-3zM262 569h3v2h-3zM265 570h3v12h-3zM268 581h3v10h-3zM271 590h3v33h-3zM274 622h3v3h-3zM277 623h3v2h-3zM280 614h3v10h-3zM283 612h3v9h-3zM286 620h3v26h-3zM289 626h3v20h-3zM292 612h3v15h-3zM295 612h3v20h-3zM298 612h3v20h-3zM301 612h3v15h-3zM304 612h3v15h-3zM307 603h3v10h-3zM310 603h3v30h-3zM313 632h3v34h-3zM316 670h3v7h-3zM319 676h3v5h-3zM322 680h3v3h-3zM325 682h3v5h-3zM328 686h3v3h-3zM331 692h3v14h-3zM334 705h3v2h-3zM337 661h3v46h-3zM340 661h3v10h-3zM343 660h3v11h-3zM346 645h3v16h-3zM349 636h3v10h-3zM352 630h3v7h-3zM355 627h3v4h-3zM358 624h3v4h-3zM361 624h3v2h-3zM364 622h3v4h-3zM367 618h3v5h-3zM370 615h3v5h-3zM373 547h3v69h-3zM376 515h3v33h-3zM379 514h3v9h-3zM382 517h3v9h-3zM385 525h3v24h-3zM388 548h3v13h-3zM391 560h3v6h-3zM394 560h3v18h-3zM397 566h3v13h-3zM400 571h3v8h-3zM403 569h3v3h-3zM406 568h3v2h-3zM409 568h3v2h-3zM412 569h3v23h-3zM415 571h3v19h-3zM418 554h3v18h-3zM421 554h3v9h-3zM424 543h3v20h-3zM427 543h3v4h-3zM430 542h3v5h-3zM433 542h3v2h-3zM436 543h3v3h-3zM439 523h3v23h-3zM442 505h3v19h-3zM445 505h3v10h-3zM448 493h3v22h-3zM451 493h3v12h-3zM454 501h3v4h-3zM457 501h3v2h-3zM460 502h3v12h-3zM463 508h3v6h-3zM466 508h3v19h-3zM469 506h3v21h-3zM472 501h3v6h-3zM475 488h3v14h-3zM478 480h3v9h-3zM481 480h3v3h-3zM484 480h3v3h-3zM487 470h3v11h-3zM490 470h3v6h-3zM493 471h3v5h-3zM496 469h3v3h-3zM499 469h3v12h-3zM502 477h3v4h-3zM505 477h3v20h-3zM508 490h3v7h-3zM511 490h3v2h-3zM514 484h3v8h-3zM517 484h3v13h-3zM520 496h3v31h-3zM523 516h3v11h-3zM526 516h3v10h-3zM529 519h3v7h-3zM532 519h3v2h-3zM535 514h3v7h-3zM538 514h3v1h-3zM541 511h3v4h-3zM544 511h3v8h-3zM547 509h3v10h-3zM550 509h3v18h-3zM553 469h3v58h-3zM556 455h3v15h-3zM559 442h3v14h-3zM562 436h3v7h-3zM565 414h3v23h-3zM568 410h3v5h-3zM571 410h3v15h-3zM574 424h3v6h-3zM577 426h3v4h-3zM580 426h3v14h-3zM583 426h3v15h-3zM586 425h3v17h-3zM589 441h3v15h-3zM592 455h3v4h-3zM595 458h3v3h-3zM598 460h3v2h-3zM601 442h3v20h-3zM604 436h3v7h-3zM607 436h3v6h-3zM610 424h3v18h-3zM613 423h3v2h-3zM616 421h3v3h-3zM619 421h3v4h-3zM622 414h3v11h-3zM625 365h3v50h-3zM628 365h3v2h-3zM631 354h3v13h-3zM634 354h3v38h-3zM637 391h3v19h-3zM640 399h3v11h-3zM643 399h3v4h-3zM646 392h3v11h-3zM649 383h3v10h-3zM652 372h3v15h-3zM655 367h3v6h-3zM658 356h3v12h-3zM661 312h3v45h-3zM664 312h3v5h-3zM667 307h3v10h-3zM670 307h3v2h-3zM673 308h3v11h-3zM676 274h3v45h-3zM679 274h3v2h-3zM682 275h3v9h-3zM685 282h3v2h-3zM688 263h3v20h-3zM691 263h3v9h-3zM694 271h3v16h-3zM697 284h3v3h-3zM700 275h3v10h-3zM703 275h3v12h-3zM706 286h3v10h-3zM709 280h3v16h-3zM712 280h3v32h-3zM715 291h3v21h-3zM718 284h3v8h-3zM721 277h3v8h-3zM724 277h3v19h-3zM727 282h3v14h-3zM730 282h3v42h-3zM733 293h3v32h-3zM736 275h3v19h-3zM739 270h3v6h-3zM742 270h3v9h-3zM745 266h3v13h-3zM748 257h3v10h-3zM751 257h3v70h-3zM754 326h3v12h-3zM757 337h3v12h-3zM760 348h3v14h-3zM763 352h3v10h-3zM766 330h3v23h-3zM769 330h3v9h-3zM772 338h3v27h-3zM775 359h3v6h-3zM778 337h3v23h-3zM781 332h3v6h-3zM784 331h3v2h-3zM787 325h3v7h-3zM790 320h3v6h-3zM793 277h3v44h-3zM796 277h3v7h-3zM799 263h3v21h-3zM802 259h3v5h-3zM805 250h3v10h-3zM808 250h3v17h-3zM811 266h3v5h-3zM814 270h3v17h-3zM817 266h3v21h-3zM820 266h3v30h-3zM823 295h3v8h-3zM826 299h3v4h-3zM829 299h3v2h-3zM832 300h3v1h-3zM835 300h3v20h-3zM838 316h3v4h-3zM841 256h3v61h-3zM844 217h3v40h-3zM847 215h3v3h-3zM850 208h3v8h-3zM853 203h3v6h-3zM856 201h3v3h-3zM859 191h3v11h-3zM862 162h3v30h-3zM865 162h3v5h-3zM868 166h3v1h-3zM871 166h3v1h-3zM874 166h3v10h-3zM877 175h3v6h-3zM880 180h3v6h-3zM883 185h3v17h-3zM886 201h3v4h-3zM889 204h3v10h-3zM892 205h3v9h-3zM895 205h3v24h-3zM898 201h3v28h-3zM901 178h3v24h-3zM904 178h3v14h-3zM907 180h3v12h-3zM910 192h3v8h-3zM913 192h3v8h-3zM916 192h3v5h-3zM919 196h3v8h-3zM922 186h3v18h-3zM925 186h3v16h-3zM928 187h3v15h-3zM931 187h3v6h-3zM934 188h3v5h-3zM937 188h3v3h-3zM940 147h3v44h-3zM943 108h3v40h-3zM946 88h3v21h-3zM949 83h3v6h-3zM952 78h3v6h-3zM955 77h3v2h-3zM958 67h3v11h-3z" fill="#000"/>
<path d="M125 722h1v19h-1zM128 702h1v19h-1zM131 693h1v8h-1zM140 708h1v15h-1zM155 721h1v6h-1zM158 716h1v4h-1zM161 714h1v1h-1zM164 659h1v54h-1zM167 654h1v4h-1zM170 633h1v20h-1zM173 604h1v28h-1zM182 576h1v28h-1zM212 609h1v16h-1zM215 588h1v20h-1zM224 624h1v13h-1zM230 623h1v12h-1zM236 629h1v14h-1zM239 626h1v2h-1zM248 612h1v14h-1zM254 636h1v7h-1zM257 588h1v47h-1zM260 570h1v17h-1zM281 615h1v8h-1zM290 627h1v18h-1zM293 613h1v13h-1zM299 613h1v18h-1zM305 613h1v13h-1zM308 604h1v8h-1zM338 662h1v44h-1zM344 661h1v9h-1zM347 646h1v14h-1zM350 637h1v8h-1zM353 631h1v5h-1zM356 628h1v2h-1zM359 625h1v2h-1zM365 623h1v2h-1zM368 619h1v3h-1zM371 616h1v3h-1zM374 548h1v67h-1zM377 516h1v31h-1zM401 572h1v6h-1zM404 570h1v1h-1zM416 572h1v17h-1zM419 555h1v16h-1zM425 544h1v18h-1zM431 543h1v3h-1zM440 524h1v21h-1zM443 506h1v17h-1zM449 494h1v20h-1zM455 502h1v2h-1zM464 509h1v4h-1zM470 507h1v19h-1zM473 502h1v4h-1zM476 489h1v12h-1zM479 481h1v7h-1zM485 481h1v1h-1zM488 471h1v9h-1zM494 472h1v3h-1zM497 470h1v1h-1zM503 478h1v2h-1zM509 491h1v5h-1zM515 485h1v6h-1zM524 517h1v9h-1zM530 520h1v5h-1zM536 515h1v5h-1zM542 512h1v2h-1zM548 510h1v8h-1zM554 470h1v56h-1zM557 456h1v13h-1zM560 443h1v12h-1zM563 437h1v5h-1zM566 415h1v21h-1zM569 411h1v3h-1zM578 427h1v2h-1zM602 443h1v18h-1zM605 437h1v5h-1zM611 425h1v16h-1zM617 422h1v1h-1zM623 415h1v9h-1zM626 366h1v48h-1zM632 355h1v11h-1zM641 400h1v9h-1zM647 393h1v9h-1zM650 384h1v8h-1zM653 373h1v13h-1zM656 368h1v4h-1zM659 357h1v10h-1zM662 313h1v43h-1zM668 308h1v8h-1zM677 275h1v43h-1zM689 264h1v18h-1zM698 285h1v1h-1zM701 276h1v8h-1zM710 281h1v14h-1zM716 292h1v19h-1zM719 285h1v6h-1zM722 278h1v6h-1zM728 283h1v12h-1zM737 276h1v17h-1zM740 271h1v4h-1zM746 267h1v11h-1zM749 258h1v8h-1zM764 353h1v8h-1zM767 331h1v21h-1zM776 360h1v4h-1zM779 338h1v21h-1zM782 333h1v4h-1zM788 326h1v5h-1zM791 321h1v4h-1zM794 278h1v42h-1zM800 264h1v19h-1zM803 260h1v3h-1zM806 251h1v8h-1zM818 267h1v19h-1zM827 300h1v2h-1zM839 317h1v2h-1zM842 257h1v59h-1zM845 218h1v38h-1zM848 216h1v1h-1zM851 209h1v6h-1zM854 204h1v4h-1zM857 202h1v1h-1zM860 192h1v9h-1zM863 163h1v28h-1zM893 206h1v7h-1zM899 202h1v26h-1zM902 179h1v22h-1zM908 181h1v10h-1zM914 193h1v6h-1zM923 187h1v16h-1zM929 188h1v13h-1zM935 189h1v3h-1zM941 148h1v42h-1zM944 109h1v38h-1zM947 89h1v19h-1zM950 84h1v4h-1zM953 79h1v4h-1zM959 68h1v9h-1z" fill="#f2f2f2"/>
<path d="M134 693h1v14h-1zM137 708h1v15h-1zM146 707h1v4h-1zM149 709h1v12h-1zM152 722h1v5h-1zM176 597h1v6h-1zM179 598h1v6h-1zM185 576h1v5h-1zM191 582h1v1h-1zM194 584h1v9h-1zM197 594h1v2h-1zM206 597h1v10h-1zM209 608h1v17h-1zM218 588h1v17h-1zM221 606h1v31h-1zM227 624h1v11h-1zM233 626h1v17h-1zM251 612h1v31h-1zM266 571h1v10h-1zM269 582h1v8h-1zM272 591h1v31h-1zM275 623h1v1h-1zM284 613h1v7h-1zM287 621h1v24h-1zM296 613h1v18h-1zM302 613h1v13h-1zM311 604h1v28h-1zM314 633h1v32h-1zM317 671h1v5h-1zM320 677h1v3h-1zM323 681h1v1h-1zM326 683h1v3h-1zM329 687h1v1h-1zM332 693h1v12h-1zM341 662h1v8h-1zM380 515h1v7h-1zM383 518h1v7h-1zM386 526h1v22h-1zM389 549h1v11h-1zM392 561h1v4h-1zM395 561h1v16h-1zM398 567h1v11h-1zM413 570h1v21h-1zM422 555h1v7h-1zM428 544h1v2h-1zM437 544h1v1h-1zM446 506h1v8h-1zM452 494h1v10h-1zM461 503h1v10h-1zM467 509h1v17h-1zM482 481h1v1h-1zM491 471h1v4h-1zM500 470h1v10h-1zM506 478h1v18h-1zM518 485h1v11h-1zM521 497h1v29h-1zM527 517h1v8h-1zM545 512h1v6h-1zM551 510h1v16h-1zM572 411h1v13h-1zM575 425h1v4h-1zM581 427h1v12h-1zM584 427h1v13h-1zM587 426h1v15h-1zM590 442h1v13h-1zM593 456h1v2h-1zM596 459h1v1h-1zM608 437h1v4h-1zM620 422h1v2h-1zM635 355h1v36h-1zM638 392h1v17h-1zM644 400h1v2h-1zM665 313h1v3h-1zM674 309h1v9h-1zM683 276h1v7h-1zM692 264h1v7h-1zM695 272h1v14h-1zM704 276h1v10h-1zM707 287h1v8h-1zM713 281h1v30h-1zM725 278h1v17h-1zM731 283h1v40h-1zM734 294h1v30h-1zM743 271h1v7h-1zM752 258h1v68h-1zM755 327h1v10h-1zM758 338h1v10h-1zM761 349h1v12h-1zM770 331h1v7h-1zM773 339h1v25h-1zM797 278h1v5h-1zM809 251h1v15h-1zM812 267h1v3h-1zM815 271h1v15h-1zM821 267h1v28h-1zM824 296h1v6h-1zM836 301h1v18h-1zM866 163h1v3h-1zM875 167h1v8h-1zM878 176h1v4h-1zM881 181h1v4h-1zM884 186h1v15h-1zM887 202h1v2h-1zM890 205h1v8h-1zM896 206h1v22h-1zM905 179h1v12h-1zM911 193h1v6h-1zM917 193h1v3h-1zM920 197h1v6h-1zM926 187h1v14h-1zM932 188h1v4h-1zM938 189h1v1h-1z" fill="#4c4c4c"/>
<rect x="4" y="194" width="1012" height="2" fill="#0000cc"/>
<rect x="4" y="621" width="1012" height="2" fill="#0000cc"/>
<line x1="301" y1="737.5" x2="986" y2="282" stroke="#ff0000" stroke-width="1" shape-rendering="auto"/>
</g>
<text y="394.8" font-family="'DejaVu Sans', 'Liberation Sans', sans-serif" font-size="15.5" fill="#ada0a0" shape-rendering="auto"><tspan x="757.8" textLength="201" lengthAdjust="spacingAndGlyphs">Портал для трейдеров -</tspan> <tspan x="966.6" textLength="100.5" lengthAdjust="spacingAndGlyphs">ForTrader.ru</tspan></text>
<rect x="1016" y="7" width="1" height="733" fill="#000"/>
<rect x="1068" y="7" width="1" height="730" fill="#000"/>
<rect x="1016" y="62" width="53" height="12" fill="#000"/>
<rect x="1017" y="63" width="51" height="10" fill="#000000"/>
<text x="1031.8" y="71.8" textLength="34.3" lengthAdjust="spacingAndGlyphs" font-family="'Liberation Serif', serif" font-weight="bold" font-size="10.3" fill="#fff" shape-rendering="auto">164520</text>
<path d="M1020 65h1v2h1v2h1v2h-5v-2h1v-2h1z" fill="#fff"/>
<rect x="1016" y="165" width="53" height="12" fill="#000"/>
<rect x="1017" y="166" width="51" height="10" fill="#008000"/>
<text x="1031.8" y="174.8" textLength="34.3" lengthAdjust="spacingAndGlyphs" font-family="'Liberation Serif', serif" font-weight="bold" font-size="10.3" fill="#fff" shape-rendering="auto">160910</text>
<rect x="1016" y="190" width="53" height="12" fill="#000"/>
<rect x="1017" y="191" width="51" height="10" fill="#0000dd"/>
<text x="1031.8" y="199.8" textLength="34.3" lengthAdjust="spacingAndGlyphs" font-family="'Liberation Serif', serif" font-weight="bold" font-size="10.3" fill="#fff" shape-rendering="auto">160029</text>
<rect x="1016" y="276" width="53" height="12" fill="#000"/>
<rect x="1017" y="277" width="51" height="10" fill="#ff0000"/>
<text x="1031.8" y="285.8" textLength="34.3" lengthAdjust="spacingAndGlyphs" font-family="'Liberation Serif', serif" font-weight="bold" font-size="10.3" fill="#000" shape-rendering="auto">157003</text>
<rect x="1016" y="617" width="53" height="12" fill="#000"/>
<rect x="1017" y="618" width="51" height="10" fill="#0000dd"/>
<text x="1031.8" y="626.8" textLength="34.3" lengthAdjust="spacingAndGlyphs" font-family="'Liberation Serif', serif" font-weight="bold" font-size="10.3" fill="#fff" shape-rendering="auto">145000</text>
<text x="1031" y="484.3" textLength="34.3" lengthAdjust="spacingAndGlyphs" font-family="'Liberation Serif', serif" font-weight="bold" font-size="10.3" fill="#000" shape-rendering="auto">150000</text>
<rect x="18" y="736" width="1051" height="1" fill="#000"/>
<rect x="18" y="739" width="999" height="1" fill="#000"/>
<rect x="18" y="737" width="943" height="2" fill="#000"/>
<rect x="961" y="737" width="55" height="2" fill="#ffffff"/>
<rect x="18" y="737" width="19" height="2" fill="#0000e0"/>
<rect x="37" y="737" width="42" height="2" fill="#f0f000"/>
<rect x="121" y="737" width="42" height="2" fill="#00cc00"/>
<rect x="163" y="737" width="42" height="2" fill="#dd0000"/>
<rect x="205" y="737" width="42" height="2" fill="#0000e0"/>
<rect x="247" y="737" width="42" height="2" fill="#f0f000"/>
<rect x="331" y="737" width="42" height="2" fill="#00cc00"/>
<rect x="373" y="737" width="42" height="2" fill="#dd0000"/>
<rect x="415" y="737" width="42" height="2" fill="#0000e0"/>
<rect x="457" y="737" width="42" height="2" fill="#f0f000"/>
<rect x="541" y="737" width="42" height="2" fill="#00cc00"/>
<rect x="583" y="737" width="42" height="2" fill="#dd0000"/>
<rect x="625" y="737" width="42" height="2" fill="#0000e0"/>
<rect x="667" y="737" width="42" height="2" fill="#f0f000"/>
<rect x="751" y="737" width="42" height="2" fill="#00cc00"/>
<rect x="793" y="737" width="42" height="2" fill="#dd0000"/>
<rect x="835" y="737" width="42" height="2" fill="#0000e0"/>
<rect x="877" y="737" width="42" height="2" fill="#f0f000"/>
<text x="17.5" y="750" font-family="'Liberation Sans', sans-serif" font-size="11.3" letter-spacing="0.7" fill="#000" shape-rendering="auto">13:00</text>
<rect x="80" y="740" width="1" height="12" fill="#000"/>
<text x="81.5" y="750" font-family="'Liberation Sans', sans-serif" font-size="11.3" letter-spacing="0.7" fill="#000" shape-rendering="auto">6 10:00</text>
<rect x="164" y="740" width="1" height="12" fill="#000"/>
<text x="165.5" y="750" font-family="'Liberation Sans', sans-serif" font-size="11.3" letter-spacing="0.7" fill="#000" shape-rendering="auto">10 10:00</text>
<rect x="248" y="740" width="1" height="12" fill="#000"/>
<text x="249.5" y="750" font-family="'Liberation Sans', sans-serif" font-size="11.3" letter-spacing="0.7" fill="#000" shape-rendering="auto">12 10:00</text>
<rect x="332" y="740" width="1" height="12" fill="#000"/>
<text x="333.5" y="750" font-family="'Liberation Sans', sans-serif" font-size="11.3" letter-spacing="0.7" fill="#000" shape-rendering="auto">16 10:00</text>
<rect x="416" y="740" width="1" height="12" fill="#000"/>
<text x="417.5" y="750" font-family="'Liberation Sans', sans-serif" font-size="11.3" letter-spacing="0.7" fill="#000" shape-rendering="auto">18 10:00</text>
<rect x="500" y="740" width="1" height="12" fill="#000"/>
<text x="501.5" y="750" font-family="'Liberation Sans', sans-serif" font-size="11.3" letter-spacing="0.7" fill="#000" shape-rendering="auto">20 10:00</text>
<rect x="584" y="740" width="1" height="12" fill="#000"/>
<text x="585.5" y="750" font-family="'Liberation Sans', sans-serif" font-size="11.3" letter-spacing="0.7" fill="#000" shape-rendering="auto">24 10:00</text>
<rect x="668" y="740" width="1" height="12" fill="#000"/>
<text x="669.5" y="750" font-family="'Liberation Sans', sans-serif" font-size="11.3" letter-spacing="0.7" fill="#000" shape-rendering="auto">26 10:00</text>
<rect x="752" y="740" width="1" height="12" fill="#000"/>
<text x="753.5" y="750" font-family="'Liberation Sans', sans-serif" font-size="11.3" letter-spacing="0.7" fill="#000" shape-rendering="auto">30 10:00</text>
<rect x="836" y="740" width="1" height="12" fill="#000"/>
<text x="837.5" y="750" font-family="'Liberation Sans', sans-serif" font-size="11.3" letter-spacing="0.7" fill="#000" shape-rendering="auto">1 10:00</text>
<rect x="920" y="740" width="1" height="12" fill="#000"/>
<text x="921.5" y="750" font-family="'Liberation Sans', sans-serif" font-size="11.3" letter-spacing="0.7" fill="#000" shape-rendering="auto">3 10:00</text>
<rect x="3" y="733" width="15" height="19" fill="#000"/>
<rect x="4" y="734" width="13" height="17" fill="#ffffff"/>
<rect x="14" y="735" width="1" height="14" fill="#000"/>
<rect x="1037" y="737" width="16" height="15" fill="url(#bb)"/>
<rect x="1053" y="737" width="16" height="15" fill="url(#rb)"/>
<g shape-rendering="auto" fill="none" stroke="#fff" stroke-width="1"><rect x="1039.5" y="740.5" width="11" height="8" rx="1.5"/><rect x="1055.5" y="740.5" width="11" height="8" rx="1.5"/><path d="M1042.5 742v5M1044 744.5h5M1046 742.5l-2 2l2 2" stroke-width="1.2"/><path d="M1059.5 744.5h5M1062.5 742.5l2 2l-2 2" stroke-width="1.2"/></g>
<rect x="5" y="8" width="28" height="12" fill="#a0a0a0"/>
<rect x="5" y="8" width="27" height="11" fill="#505050"/>
<rect x="4" y="7" width="27" height="11" fill="#ffffff"/>
<text x="4.8" y="16.2" font-family="'DejaVu Sans', 'Liberation Sans', sans-serif" font-weight="bold" font-size="9.4" fill="#000" stroke="#000" stroke-width="0.3" shape-rendering="auto" textLength="23.5" lengthAdjust="spacingAndGlyphs">Data</text>
<rect x="5" y="21" width="90" height="101" fill="#f4f0e0"/>
<rect x="6" y="22" width="88" height="99" fill="#c0c0c0"/>
<text x="10.5" y="35.7" font-family="'Liberation Sans', sans-serif" font-size="10.5" fill="#000" shape-rendering="auto">Open: 164180</text>
<text x="10.5" y="48.8" font-family="'Liberation Sans', sans-serif" font-size="10.5" fill="#000" shape-rendering="auto">High: 164560</text>
<text x="10.5" y="61.9" font-family="'Liberation Sans', sans-serif" font-size="10.5" fill="#000" shape-rendering="auto">Low: 164110</text>
<text x="10.5" y="74.9" font-family="'Liberation Sans', sans-serif" font-size="10.5" fill="#000" shape-rendering="auto">Close: 164520</text>
<text x="10.5" y="88.0" font-family="'Liberation Sans', sans-serif" font-size="10.5" fill="#000" shape-rendering="auto">Vol.: 29247</text>
<text x="10.5" y="114.2" font-family="'Liberation Sans', sans-serif" font-size="10.5" fill="#000" shape-rendering="auto">MA: 160910</text>
<text x="6.7" y="667.7" textLength="90.2" font-family="'DejaVu Sans', 'Liberation Sans', sans-serif" font-weight="bold" font-size="8.6" fill="#000" stroke="#000" stroke-width="0.25" shape-rendering="auto" lengthAdjust="spacingAndGlyphs">31/01/2012 18:00</text>
<text x="6.7" y="683.3" textLength="68.5" font-family="'DejaVu Sans', 'Liberation Sans', sans-serif" font-weight="bold" font-size="8.6" fill="#000" stroke="#000" stroke-width="0.25" shape-rendering="auto" lengthAdjust="spacingAndGlyphs">Open: 156830</text>
<text x="6.7" y="695.4" textLength="64.3" font-family="'DejaVu Sans', 'Liberation Sans', sans-serif" font-weight="bold" font-size="8.6" fill="#000" stroke="#000" stroke-width="0.25" shape-rendering="auto" lengthAdjust="spacingAndGlyphs">High: 158145</text>
<text x="6.7" y="707.6" textLength="63.2" font-family="'DejaVu Sans', 'Liberation Sans', sans-serif" font-weight="bold" font-size="8.6" fill="#000" stroke="#000" stroke-width="0.25" shape-rendering="auto" lengthAdjust="spacingAndGlyphs">Low: 156435</text>
<text x="6.7" y="719.8" textLength="68.5" font-family="'DejaVu Sans', 'Liberation Sans', sans-serif" font-weight="bold" font-size="8.6" fill="#000" stroke="#000" stroke-width="0.25" shape-rendering="auto" lengthAdjust="spacingAndGlyphs">Close: 157610</text>
<text x="6.7" y="731.9" textLength="61.4" font-family="'DejaVu Sans', 'Liberation Sans', sans-serif" font-weight="bold" font-size="8.6" fill="#000" stroke="#000" stroke-width="0.25" shape-rendering="auto" lengthAdjust="spacingAndGlyphs">Vol.: 163349</text>
</svg>
</body></html>
